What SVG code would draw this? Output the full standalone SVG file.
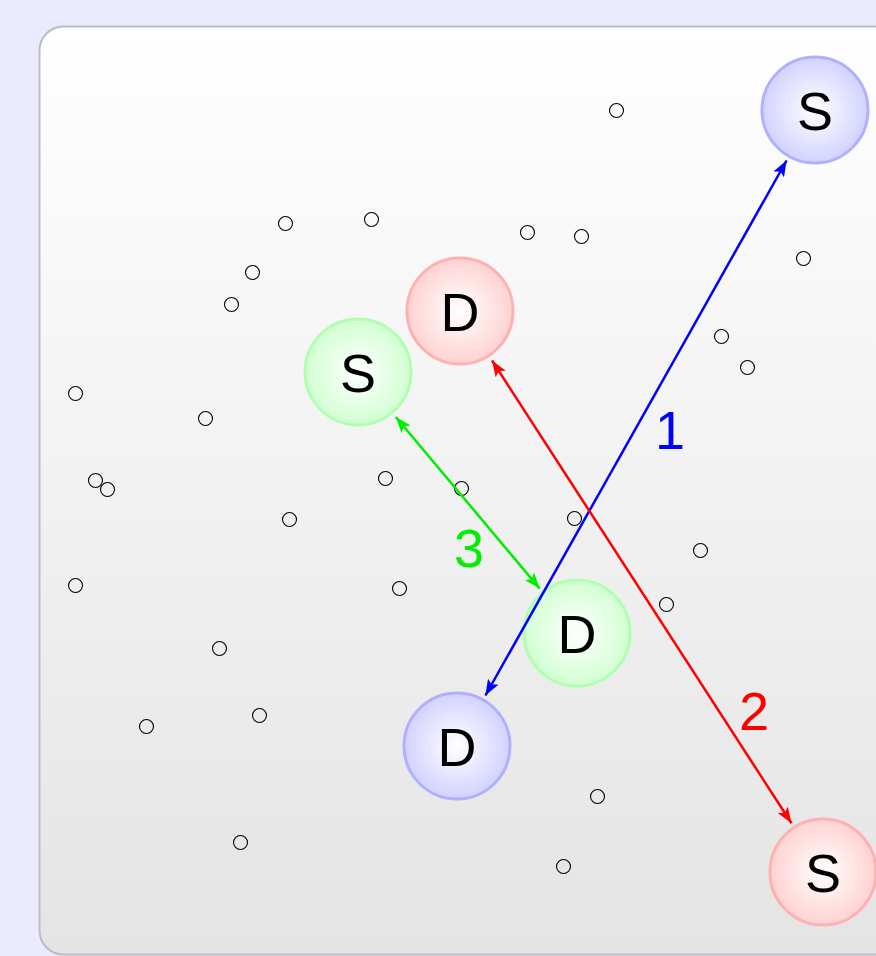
<svg xmlns="http://www.w3.org/2000/svg" width="876" height="956" viewBox="0 0 876 956">
  <defs>
    <linearGradient id="panelFill" x1="0" y1="0" x2="0" y2="1">
      <stop offset="0" stop-color="#ffffff"/>
      <stop offset="1" stop-color="#e4e4e4"/>
    </linearGradient>
    <radialGradient id="blueFill">
      <stop offset="0" stop-color="#ffffff"/>
      <stop offset="1" stop-color="#d2d2ff"/>
    </radialGradient>
    <radialGradient id="redFill">
      <stop offset="0" stop-color="#ffffff"/>
      <stop offset="1" stop-color="#ffd2d2"/>
    </radialGradient>
    <radialGradient id="greenFill">
      <stop offset="0" stop-color="#ffffff"/>
      <stop offset="1" stop-color="#d2ffd2"/>
    </radialGradient>
    <marker id="arrowBlue" viewBox="0 0 16 12" refX="16" refY="6" markerWidth="16" markerHeight="12" markerUnits="userSpaceOnUse" orient="auto-start-reverse">
      <path d="M0,0 L16,6 L0,12 L3.5,6 Z" fill="#0000ff"/>
    </marker>
    <marker id="arrowRed" viewBox="0 0 16 12" refX="16" refY="6" markerWidth="16" markerHeight="12" markerUnits="userSpaceOnUse" orient="auto-start-reverse">
      <path d="M0,0 L16,6 L0,12 L3.5,6 Z" fill="#ff0000"/>
    </marker>
    <marker id="arrowGreen" viewBox="0 0 16 12" refX="16" refY="6" markerWidth="16" markerHeight="12" markerUnits="userSpaceOnUse" orient="auto-start-reverse">
      <path d="M0,0 L16,6 L0,12 L3.5,6 Z" fill="#00ee00"/>
    </marker>
  </defs>
  <style>
    .node-label { font-family: "Liberation Sans", Arial, sans-serif; font-size: 54px; fill: #000; text-anchor: middle; }
    .edge-label { font-family: "Liberation Sans", Arial, sans-serif; font-size: 54px; text-anchor: middle; }
    .dot { fill: none; stroke: #000; stroke-width: 1.1; }
    .blue circle { fill: url(#blueFill); stroke: #b0b0ff; stroke-width: 3; }
    .red circle { fill: url(#redFill); stroke: #ffb0b0; stroke-width: 3; }
    .green circle { fill: url(#greenFill); stroke: #b0ffb0; stroke-width: 3; }
    .edge { stroke-width: 2.5; fill: none; }
  </style>

  <!-- page background and panel -->
  <rect x="0" y="0" width="876" height="956" fill="#ebebff"/>
  <rect x="39.5" y="26.5" width="880" height="928" rx="24" ry="24" fill="url(#panelFill)" stroke="#bdbdbd" stroke-width="2"/>

  <!-- scattered points -->
  <g id="points" transform="translate(0.5,0.5)">
    <circle class="dot" cx="616" cy="110" r="7"/>
    <circle class="dot" cx="285" cy="223" r="7"/>
    <circle class="dot" cx="371" cy="219" r="7"/>
    <circle class="dot" cx="527" cy="232" r="7"/>
    <circle class="dot" cx="581" cy="236" r="7"/>
    <circle class="dot" cx="252" cy="272" r="7"/>
    <circle class="dot" cx="231" cy="304" r="7"/>
    <circle class="dot" cx="803" cy="258" r="7"/>
    <circle class="dot" cx="721" cy="336" r="7"/>
    <circle class="dot" cx="747" cy="367" r="7"/>
    <circle class="dot" cx="75" cy="393" r="7"/>
    <circle class="dot" cx="205" cy="418" r="7"/>
    <circle class="dot" cx="95" cy="480" r="7"/>
    <circle class="dot" cx="107" cy="489" r="7"/>
    <circle class="dot" cx="385" cy="478" r="7"/>
    <circle class="dot" cx="461" cy="488" r="7"/>
    <circle class="dot" cx="289" cy="519" r="7"/>
    <circle class="dot" cx="574" cy="518" r="7"/>
    <circle class="dot" cx="700" cy="550" r="7"/>
    <circle class="dot" cx="75" cy="585" r="7"/>
    <circle class="dot" cx="399" cy="588" r="7"/>
    <circle class="dot" cx="666" cy="604" r="7"/>
    <circle class="dot" cx="219" cy="648" r="7"/>
    <circle class="dot" cx="259" cy="715" r="7"/>
    <circle class="dot" cx="146" cy="726" r="7"/>
    <circle class="dot" cx="597" cy="796" r="7"/>
    <circle class="dot" cx="240" cy="842" r="7"/>
    <circle class="dot" cx="563" cy="866" r="7"/>
  </g>

  <!-- nodes -->
  <g id="node-s1" class="blue">
    <circle cx="815" cy="110" r="53"/>
    <text class="node-label" x="815" y="130">S</text>
  </g>
  <g id="node-d1" class="blue">
    <circle cx="457" cy="746" r="53"/>
    <text class="node-label" x="457" y="766">D</text>
  </g>
  <g id="node-d2" class="red">
    <circle cx="460" cy="311" r="53"/>
    <text class="node-label" x="460" y="331">D</text>
  </g>
  <g id="node-s2" class="red">
    <circle cx="823" cy="872" r="53"/>
    <text class="node-label" x="823" y="892">S</text>
  </g>
  <g id="node-s3" class="green">
    <circle cx="358" cy="372" r="53"/>
    <text class="node-label" x="358" y="392">S</text>
  </g>
  <g id="node-d3" class="green">
    <circle cx="577" cy="633" r="53"/>
    <text class="node-label" x="577" y="653">D</text>
  </g>

  <!-- connectors -->
  <g id="connectors">
    <line class="edge" x1="485.4" y1="695.5" x2="786.6" y2="160.5" stroke="#0000ff" marker-start="url(#arrowBlue)" marker-end="url(#arrowBlue)"/>
    <line class="edge" x1="492" y1="360.5" x2="791.5" y2="823.3" stroke="#ff0000" marker-start="url(#arrowRed)" marker-end="url(#arrowRed)"/>
    <line class="edge" x1="395.8" y1="417" x2="539.7" y2="588.6" stroke="#00ee00" marker-start="url(#arrowGreen)" marker-end="url(#arrowGreen)"/>
    <text class="edge-label" x="670" y="449" fill="#0000ff">1</text>
    <text class="edge-label" x="754" y="730" fill="#ff0000">2</text>
    <text class="edge-label" x="469" y="567" fill="#00ee00">3</text>
  </g>
</svg>
